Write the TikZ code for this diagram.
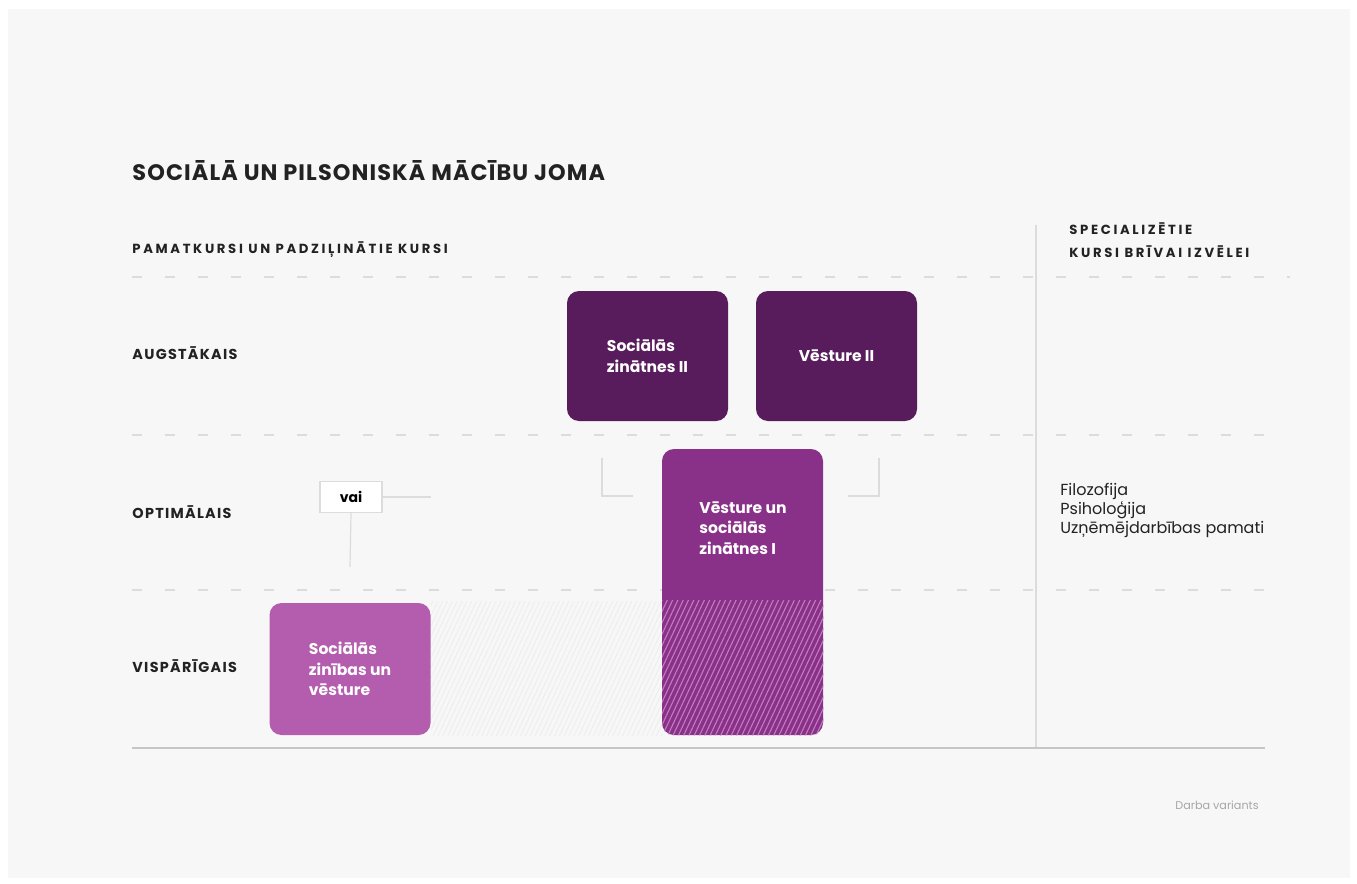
\documentclass[tikz,border=0pt]{standalone}
\usepackage{fontspec}
\setmainfont{Poppins}
\newfontfamily\spacedfont[LetterSpace=20]{Poppins}
\newfontfamily\rowfont[LetterSpace=9]{Poppins}
\newfontfamily\titlefont[LetterSpace=5]{Poppins}
\usepackage{tikz}
\usetikzlibrary{positioning,patterns.meta}

\definecolor{bggrey}{HTML}{F7F7F7}
\definecolor{darkpurple}{HTML}{581B5B}
\definecolor{midpurple}{HTML}{893188}
\definecolor{lightpurple}{HTML}{B45DAE}
\definecolor{gridgrey}{HTML}{DCDCDC}
\definecolor{textgrey}{HTML}{222222}

\begin{document}
\begin{tikzpicture}[
    % GLOBAL CFG
    x=0.5pt, y=-0.5pt,
    % Styles
    cell/.style={% For the course boxes
        rectangle,
        rounded corners=6pt,
        minimum width=80.5pt,
        text=white,
        font=\bfseries\fontsize{7.8}{10.3}\selectfont,
        align=left,
        inner sep=0pt,
        },
    rowlabel/.style={% For the level names
        anchor=west,
        inner sep=0pt,
        text=textgrey,
        font=\rowfont\bfseries\fontsize{7.2}{8}\selectfont,
        },
    header/.style={% For the column headers
        anchor=west,
        inner sep=0pt,
        text=textgrey,
        align=left,
        font=\spacedfont\bfseries\fontsize{6.6}{11.5}\selectfont,
        },
    grid/.style={% Dashed level separators
        gridgrey,
        line width=0.8pt,
        dash pattern=on 5pt off 11.5pt,
        },
    thinline/.style={% For brackets and the vai links
        gridgrey,
        line width=0.6pt,
        },
    ]

    % Background
    \fill [white] (0,0) rectangle (1357,884);
    \fill [bggrey] (8,9) rectangle (1350,878);

    % Titles
    \node [anchor=west, inner sep=0pt, text=textgrey, font=\titlefont\bfseries\fontsize{11.2}{12}\selectfont] (title) at (132,171) {SOCIĀLĀ UN PILSONISKĀ MĀCĪBU JOMA};
    \node [header] (basic) at (132,250) {PAMATKURSI UN PADZIĻINĀTIE KURSI};
    \node [header] (special) at (1069,240) {SPECIALIZĒTIE\\KURSI BRĪVAI IZVĒLEI};

    % Grid lines
    \draw [grid] (132,277) -- (1290,277);
    \draw [grid] (132,435) -- (1265,435);
    \draw [grid] (132,590) -- (1265,590);
    \draw [gridgrey, line width=0.6pt] (1036,225) -- (1036,748);
    \draw [gridgrey!90!black, line width=1pt] (132,748) -- (1265,748);

    % Level names
    \node [rowlabel] (high) at (132,353) {AUGSTĀKAIS};
    \node [rowlabel] (opt) at (132,512) {OPTIMĀLAIS};
    \node [rowlabel] (gen) at (132,666) {VISPĀRĪGAIS};

    % Faint hatch between the general boxes
    \fill [pattern={Lines[angle=65, distance=2.2pt, line width=0.4pt]}, pattern color=gridgrey!50] (431,601) rectangle (662,735);

    % Upper boxes
    \node [cell, fill=darkpurple, minimum height=65pt] (szII) at (647.5,356) {Sociālās\\zinātnes II};
    \node [cell, fill=darkpurple, minimum height=65pt] (vII) at (836.5,356) {Vēsture II};

    % Middle box, hatched in its lower part
    \node [cell, fill=midpurple, minimum height=143pt] (vsz) at (742.5,592) {};
    \node [cell] (vsztxt) at (743,528) {Vēsture un\\sociālās\\zinātnes I};
    \coordinate (hatchtop) at (662,600);
    \begin{scope}
        \clip [rounded corners=6pt] (vsz.north west) rectangle (vsz.south east);
        \fill [pattern={Lines[angle=65, distance=2.4pt, line width=0.55pt]}, pattern color=lightpurple!80] (hatchtop) rectangle (vsz.south east);
    \end{scope}

    % Lower box
    \node [cell, fill=lightpurple, minimum height=66pt] (szv) at (350,669) {Sociālās\\zinības un\\vēsture};

    % Brackets
    \coordinate (bl1) at (602,458);
    \coordinate (bl2) at (633,496);
    \coordinate (br1) at (879,458);
    \coordinate (br2) at (848,496);
    \draw [thinline] (bl1) |- (bl2);
    \draw [thinline] (br1) |- (br2);

    % vai
    \node [draw=gridgrey, fill=white, line width=0.6pt, minimum width=31pt, minimum height=15.5pt, inner sep=0pt, font=\bfseries\fontsize{7}{8}\selectfont] (vai) at (351,497) {vai};
    \coordinate (vaiR) at (431,497);
    \coordinate (vaiD) at (350,567);
    \draw [thinline] (vai.east) -- (vaiR);
    \draw [thinline] (vai.south) -- (vaiD);

    % Specialised courses
    \node [anchor=west, inner sep=0pt, align=left, text=textgrey, font=\fontsize{8}{9.5}\selectfont] (spec) at (1060,510) {Filozofija\\Psiholoģija\\Uzņēmējdarbības pamati};

    % Footer
    \node [anchor=west, inner sep=0pt, text=black!35, font=\fontsize{5.6}{6}\selectfont] (draft) at (1175,805) {Darba variants};

\end{tikzpicture}
\end{document}
